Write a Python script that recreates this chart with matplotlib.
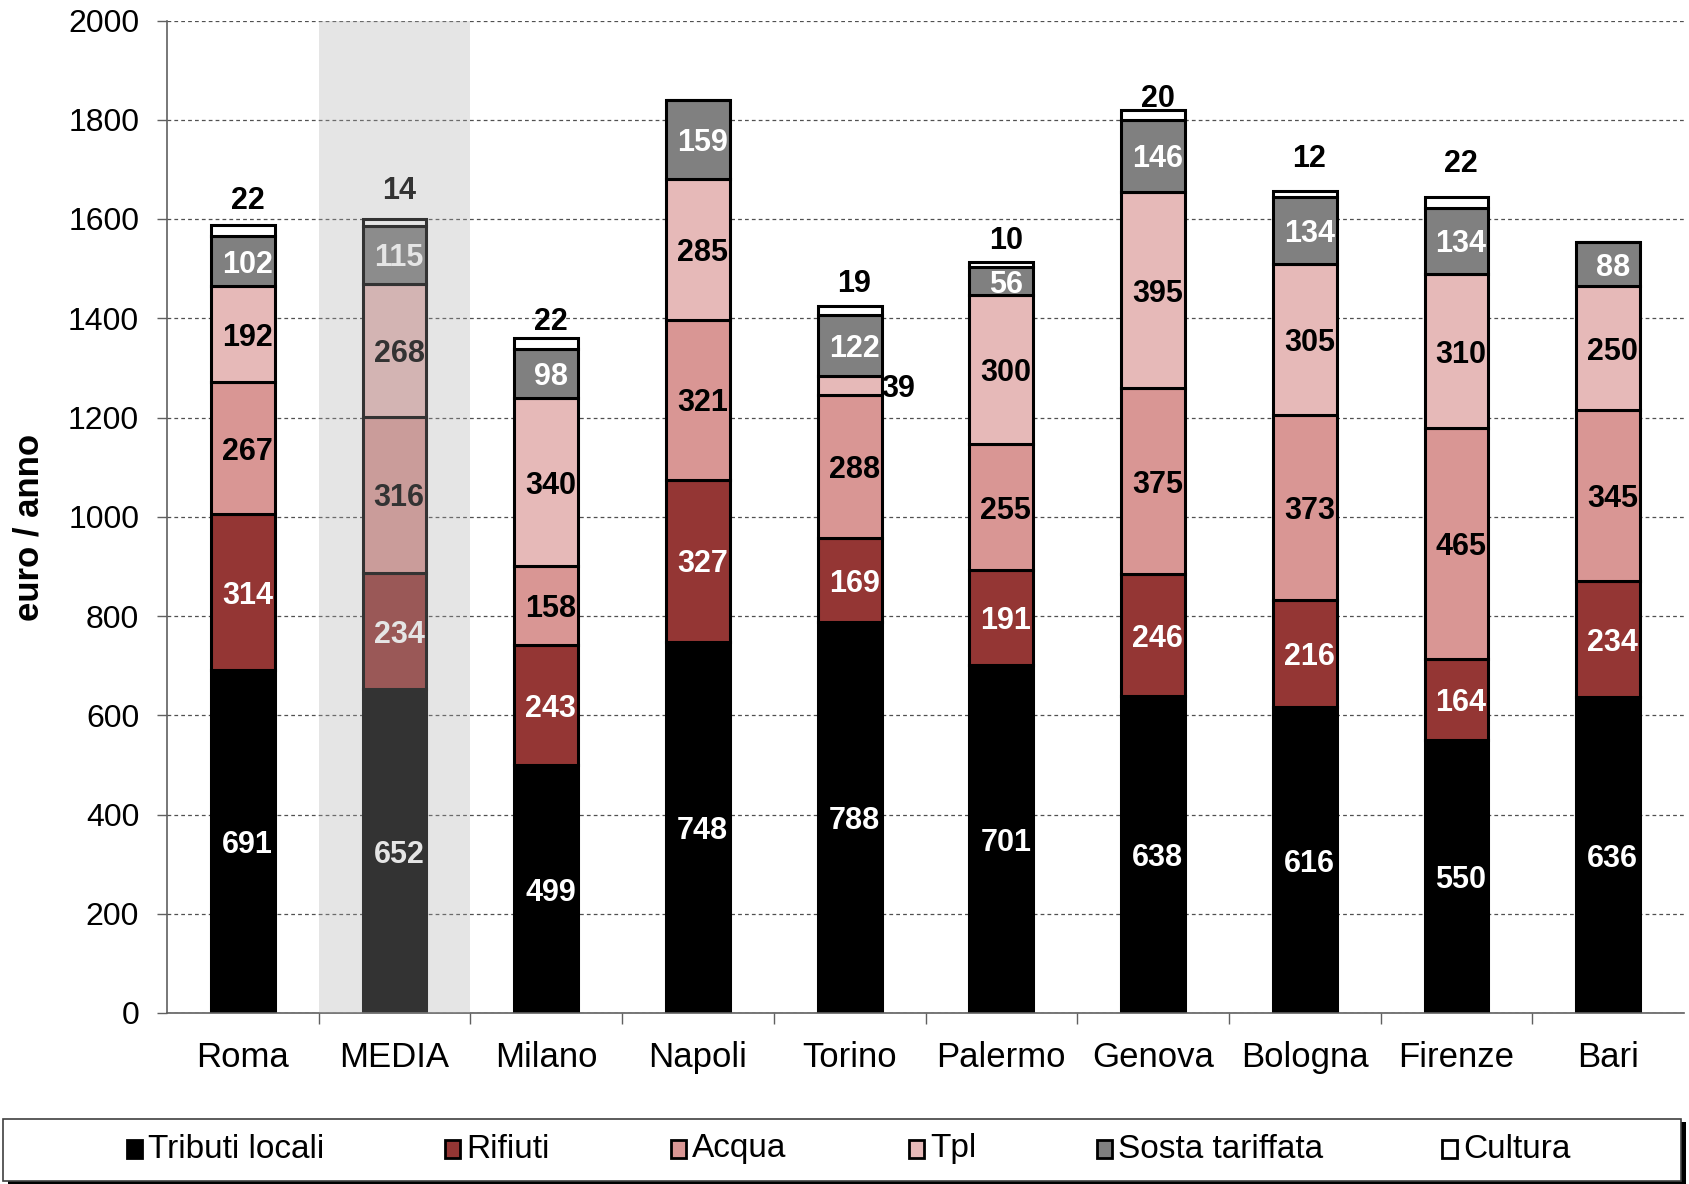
#!/usr/bin/env python
"""Spesa annua per famiglia nei capoluoghi: barre impilate per voce."""

from matplotlib import pyplot as plt
from matplotlib.patches import Rectangle
import numpy as np

plt.rcParams['font.family'] = ['Liberation Sans', 'DejaVu Sans']

# Dati (euro / anno).
cities   = ['Roma', 'MEDIA', 'Milano', 'Napoli', 'Torino', 'Palermo',
            'Genova', 'Bologna', 'Firenze', 'Bari']
tributi  = [691, 652, 499, 748, 788, 701, 638, 616, 550, 636]
rifiuti  = [314, 234, 243, 327, 169, 191, 246, 216, 164, 234]
acqua    = [267, 316, 158, 321, 288, 255, 375, 373, 465, 345]
tpl      = [192, 268, 340, 285, 39, 300, 395, 305, 310, 250]
sosta    = [102, 115, 98, 159, 122, 56, 146, 134, 134, 88]
cultura  = [22, 14, 22, 0, 19, 10, 20, 12, 22, 0]

series = [tributi, rifiuti, acqua, tpl, sosta, cultura]
names  = ['Tributi locali', 'Rifiuti', 'Acqua', 'Tpl', 'Sosta tariffata', 'Cultura']
colors = ['#000000', '#943634', '#D99694', '#E6B9B8', '#808080', '#FFFFFF']
txtcol = ['white', 'white', 'black', 'black', 'white', 'black']

# distanza (pt) dell'etichetta Cultura dalla cima della barra
top_off = [20, 23, 14, 0, 18, 18, 10, 26, 26, 0]

fig = plt.figure(figsize=(16.9, 11.84), dpi=100)
ax = fig.add_axes([167 / 1690, 1 - 1013 / 1184, (1684 - 167) / 1690, (1013 - 20.5) / 1184])

x = np.arange(len(cities))
width = 0.42
bottom = np.zeros(len(cities))
for k, vals in enumerate(series):
    vals = np.array(vals, dtype=float)
    ax.bar(x, vals, width, bottom=bottom, color=colors[k], edgecolor='black',
           linewidth=2.2, zorder=2)
    for i, v in enumerate(vals):
        if v == 0:
            continue
        if k == 5:
            # Cultura: etichetta sopra la barra
            ax.annotate('%d' % v, (x[i] + 0.03, bottom[i] + v), xytext=(0, top_off[i]),
                        textcoords='offset points', ha='center', va='center_baseline',
                        fontsize=22, fontweight='bold', color='black', zorder=3)
        elif v < 50:
            # segmento troppo sottile: etichetta a destra
            ax.text(x[i] + 0.32, bottom[i] + v / 2, '%d' % v, ha='center',
                    va='center_baseline', fontsize=22, fontweight='bold',
                    color='black', zorder=3)
        else:
            ax.text(x[i] + 0.03, bottom[i] + v / 2, '%d' % v, ha='center',
                    va='center_baseline', fontsize=22, fontweight='bold',
                    color=txtcol[k], zorder=3)
    bottom += vals

# Colonna della media evidenziata
ax.axvspan(0.5, 1.5, color='#aaaaaa', alpha=0.3, lw=0, zorder=10)

ax.set_xlim(-0.5, len(cities) - 0.5)
ax.set_ylim(0, 2000)
ax.set_yticks(np.arange(0, 2001, 200))
ax.set_xticks(x)
ax.set_xticklabels(cities)
ax.set_xticks(np.arange(0.5, len(cities) - 0.5, 1), minor=True)
ax.tick_params(axis='x', which='major', length=0, pad=20, labelsize=25)
ax.tick_params(axis='x', which='minor', length=8, width=1, color='#606060')
ax.tick_params(axis='y', length=7, width=1, color='#606060', pad=13, labelsize=23)

ax.yaxis.grid(True, linestyle=(0, (3, 2.5)), color='#505050', linewidth=0.9)
ax.set_axisbelow(True)
for s in ['top', 'right']:
    ax.spines[s].set_visible(False)
for s in ['left', 'bottom']:
    ax.spines[s].set_color('#606060')
    ax.spines[s].set_linewidth(1.2)

fig.text(29 / 1690, 1 - 527 / 1184, 'euro / anno', rotation=90, ha='center',
         va='center', fontsize=25, fontweight='bold')

# Legenda disegnata a mano, con ombra
W, H = 1690.0, 1184.0
fig.patches.append(Rectangle((8 / W, 0 / H), 1678 / W, 62 / H, transform=fig.transFigure,
                             facecolor='black', edgecolor='none', zorder=1))
fig.patches.append(Rectangle((3 / W, 3 / H), 1678 / W, 62 / H, transform=fig.transFigure,
                             facecolor='white', edgecolor='#404040', lw=1.2, zorder=2))
leg_x = [127, 445, 671, 909, 1097, 1442]
ly = 1 - 1149 / H
for k in range(len(names)):
    fig.patches.append(Rectangle((leg_x[k] / W, ly - 9 / H), 15 / W, 18 / H,
                                 transform=fig.transFigure, facecolor=colors[k],
                                 edgecolor='black', lw=2, zorder=3))
    fig.text((leg_x[k] + 21) / W, ly, names[k], ha='left', va='center', fontsize=24,
             zorder=4)

fig.savefig('out.png', dpi=100)
